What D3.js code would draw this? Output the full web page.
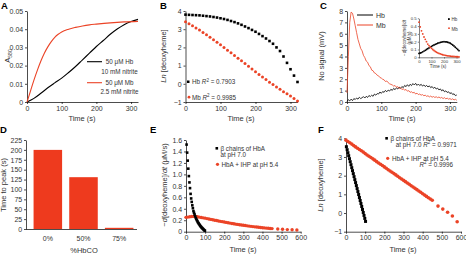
<!DOCTYPE html>
<html>
<head>
<meta charset="utf-8">
<script src="https://cdn.jsdelivr.net/npm/d3@7"></script>
<style>
  body { margin: 0; background: #fff; }
  svg { font-family: "Liberation Sans", Arial, Helvetica, sans-serif; }
  .axis path, .axis line { stroke: #000; stroke-width: 0.7; }
  .axis text { fill: #333; font-size: 7px; }
  .inset .axis text { font-size: 4.3px; }
  .inset .axis path, .inset .axis line { stroke-width: 0.5; }
  .lab { font-size: 7.5px; fill: #333; }
  .leg { font-size: 6.3px; fill: #333; }
  .letter { font-size: 9.5px; font-weight: bold; fill: #000; }
</style>
</head>
<body>
<svg id="fig" width="466" height="258"></svg>
<script>
// ---- data ----
// A: absorbance vs time
let aHbTime = [0, 20, 40, 60, 80, 100, 120, 140, 160, 180, 200, 220, 240, 260, 280, 300, 320];
let aHbAbs = [0, 0.002, 0.0048, 0.0078, 0.0105, 0.0131, 0.0162, 0.0195, 0.0232, 0.0268, 0.0305, 0.0338, 0.0372, 0.0401, 0.0425, 0.0442, 0.0454];
let aMbTime = [0, 10, 20, 30, 40, 50, 60, 70, 80, 90, 100, 120, 140, 160, 180, 200, 240, 280, 320];
let aMbAbs = [0, 0.006, 0.012, 0.0175, 0.0225, 0.0268, 0.0303, 0.0332, 0.0355, 0.0372, 0.0385, 0.04, 0.041, 0.0418, 0.0424, 0.0428, 0.0435, 0.044, 0.0443];

// B: ln[deoxyheme]
let bTime = [0, 10, 20, 30, 40, 50, 60, 70, 80, 90, 100, 110, 120, 130, 140, 150, 160, 170, 180, 190, 200, 210, 220, 230, 240, 250, 260, 270, 280, 290, 300, 310, 320];
let bHb = [3.8, 3.79, 3.78, 3.77, 3.76, 3.74, 3.72, 3.7, 3.67, 3.64, 3.6, 3.56, 3.51, 3.45, 3.39, 3.32, 3.24, 3.15, 3.06, 2.96, 2.86, 2.74, 2.62, 2.49, 2.35, 2.2, 2.0, 1.8, 1.5, 1.15, 0.8, 0.45, 0.1];
let bMb = [3.41, 3.3, 3.19, 3.07, 2.95, 2.82, 2.69, 2.56, 2.42, 2.28, 2.14, 2.0, 1.85, 1.71, 1.56, 1.41, 1.26, 1.11, 0.96, 0.81, 0.66, 0.51, 0.37, 0.23, 0.09, -0.04, -0.17, -0.3, -0.43, -0.55, -0.67, -0.81, -0.95];

// C: NO signal traces
let cTime = [0, 4, 8, 12, 16, 20, 24, 28, 32, 36, 40, 44, 48, 52, 56, 60, 64, 68, 72, 76,
  80, 84, 88, 92, 96, 100, 104, 108, 112, 116, 120, 124, 128, 132, 136, 140, 144, 148, 152, 156,
  160, 164, 168, 172, 176, 180, 184, 188, 192, 196, 200, 204, 208, 212, 216, 220, 224, 228, 232, 236,
  240, 244, 248, 252, 256, 260, 264, 268, 272, 276, 280, 284, 288, 292, 296, 300, 304, 308, 312, 316, 320];
let cHb = [0.05, 0.2, 0.1, 0.25, 0.12, 0.3, 0.22, 0.35, 0.25, 0.42, 0.3, 0.38, 0.47, 0.35, 0.5, 0.4, 0.57, 0.48, 0.6, 0.5,
  0.7, 0.6, 0.74, 0.7, 0.88, 0.76, 0.92, 0.85, 1.02, 0.9, 1.05, 0.96, 1.12, 1.02, 1.2, 1.08, 1.25, 1.14, 1.32, 1.2,
  1.36, 1.26, 1.46, 1.35, 1.52, 1.38, 1.56, 1.44, 1.62, 1.5, 1.64, 1.46, 1.58, 1.44, 1.56, 1.4, 1.5, 1.36, 1.46, 1.32,
  1.42, 1.26, 1.36, 1.2, 1.3, 1.14, 1.22, 1.06, 1.15, 0.98, 1.08, 0.9, 0.98, 0.84, 0.9, 0.74, 0.82, 0.66, 0.72, 0.56, 0.62];
let cMb = [0.8, 4.0, 7.0, 7.9, 7.8, 7.3, 6.7, 6.1, 5.5, 5.1, 4.7, 4.5, 4.1, 3.9, 3.6, 3.5, 3.2, 3.1, 2.8, 2.75,
  2.55, 2.5, 2.35, 2.3, 2.15, 2.1, 2.0, 1.95, 1.8, 1.85, 1.7, 1.6, 1.55, 1.5, 1.4, 1.45, 1.3, 1.35, 1.2, 1.25,
  1.1, 1.15, 1.05, 1.1, 0.95, 1.0, 0.85, 0.9, 0.8, 0.85, 0.7, 0.78, 0.65, 0.7, 0.6, 0.65, 0.55, 0.6, 0.5, 0.55,
  0.45, 0.52, 0.42, 0.48, 0.4, 0.46, 0.38, 0.44, 0.35, 0.4, 0.3, 0.38, 0.28, 0.34, 0.25, 0.3, 0.22, 0.28, 0.18, 0.24, 0.15];

// C inset: -d[deoxyheme]/dt
let insetTime = [0, 10, 20, 30, 40, 50, 60, 70, 80, 90, 100, 110, 120, 130, 140, 150, 160, 170, 180, 190, 200, 210, 220, 230, 240, 250, 260, 270, 280, 290, 300, 310, 320];
let insetHb = [0.05, 0.055, 0.06, 0.07, 0.08, 0.09, 0.1, 0.11, 0.12, 0.13, 0.14, 0.15, 0.158, 0.166, 0.173, 0.18, 0.186, 0.191, 0.195, 0.198, 0.2, 0.199, 0.197, 0.193, 0.187, 0.18, 0.17, 0.158, 0.145, 0.13, 0.115, 0.1, 0.085];
let insetMb = [0.45, 0.39, 0.34, 0.3, 0.26, 0.23, 0.2, 0.17, 0.15, 0.13, 0.115, 0.1, 0.087, 0.075, 0.065, 0.057, 0.05, 0.044, 0.038, 0.033, 0.029, 0.025, 0.022, 0.019, 0.017, 0.015, 0.013, 0.011, 0.01, 0.009, 0.008, 0.007, 0.006];

// D: time to peak
let dCats = ["0%", "50%", "75%"];
let dPeak = [200, 131, 3];

// E: rates
let eHbTime = [3, 6, 9, 12, 15, 18, 21, 24, 27, 30, 33, 36, 39, 42, 45, 48, 51, 54, 57, 60, 63, 66, 69, 72, 75, 78, 81, 84, 87, 90, 93, 96, 99];
let eHb = [1.52, 1.38, 1.24, 1.1, 0.97, 0.86, 0.76, 0.66, 0.58, 0.52, 0.46, 0.41, 0.36, 0.33, 0.3, 0.27, 0.24, 0.22, 0.2, 0.18, 0.16, 0.145, 0.13, 0.115, 0.1, 0.09, 0.075, 0.065, 0.055, 0.045, 0.035, 0.025, 0.018];
let ihpTime = [0, 10, 20, 30, 40, 50, 60, 70, 80, 90, 100, 110, 120, 130, 140, 150, 160, 170, 180, 190, 200, 210, 220, 230, 240, 250, 260, 270, 280, 290, 300,
  310, 320, 330, 340, 350, 360, 370, 380, 390, 400, 410, 420, 430, 440, 450, 480, 505, 530, 555, 580];
let eIhp = [0.25, 0.255, 0.26, 0.265, 0.268, 0.265, 0.26, 0.254, 0.248, 0.242, 0.236, 0.229, 0.222, 0.215, 0.208, 0.201, 0.195, 0.188, 0.181, 0.175, 0.168, 0.162, 0.156, 0.15, 0.144, 0.138, 0.132, 0.127, 0.122, 0.117, 0.112,
  0.107, 0.102, 0.098, 0.093, 0.089, 0.085, 0.081, 0.077, 0.073, 0.07, 0.066, 0.063, 0.06, 0.057, 0.054, 0.047, 0.042, 0.037, 0.033, 0.03];

// F: ln[deoxyheme]
let fHbTime = [2, 6, 10, 14, 18, 22, 26, 30, 34, 38, 42, 46, 50, 54, 58, 62, 66, 70, 74, 78, 82, 86, 90, 94, 98, 102];
let fHb = [3.55, 3.39, 3.23, 3.07, 2.91, 2.75, 2.59, 2.43, 2.27, 2.11, 1.95, 1.79, 1.63, 1.47, 1.31, 1.15, 0.99, 0.83, 0.67, 0.51, 0.35, 0.19, 0.03, -0.13, -0.29, -0.45];
let fIhp = [3.9, 3.83, 3.76, 3.69, 3.61, 3.54, 3.47, 3.4, 3.33, 3.26, 3.18, 3.11, 3.04, 2.97, 2.9, 2.83, 2.75, 2.68, 2.61, 2.54, 2.47, 2.4, 2.32, 2.25, 2.18, 2.11, 2.04, 1.97, 1.89, 1.82, 1.75,
  1.68, 1.61, 1.54, 1.46, 1.39, 1.32, 1.25, 1.18, 1.11, 1.03, 0.96, 0.89, 0.82, 0.75, 0.68, 0.37, 0.21, 0.04, -0.16, -0.47];

let ticks300 = [0, 100, 200, 300];
let ticks600 = [0, 100, 200, 300, 400, 500, 600];

let red = "#eb4326";
let barRed = "#ee3a1e";

let svg = d3.select("#fig");

function zip(xs, ys) {
  return xs.map((t, i) => ({ x: t, y: ys[i] }));
}

function addAxes(g, x, y, xVals, yVals, yFmt, tick = 2) {
  g.append("g")
    .attr("class", "axis")
    .attr("transform", "translate(0," + y.range()[0] + ")")
    .call(d3.axisBottom(x).tickValues(xVals).tickSize(tick).tickSizeOuter(0).tickPadding(tick * 0.9));
  g.append("g")
    .attr("class", "axis")
    .attr("transform", "translate(" + x.range()[0] + ",0)")
    .call(d3.axisLeft(y).tickValues(yVals).tickFormat(yFmt).tickSize(tick).tickSizeOuter(0).tickPadding(tick * 0.9));
}

function yLabel(x, y, txt) {
  return svg.append("text").attr("class", "lab").attr("text-anchor", "middle")
    .attr("transform", "translate(" + x + "," + y + ") rotate(-90)").text(txt);
}

function xLabel(x, y, txt) {
  svg.append("text").attr("class", "lab").attr("text-anchor", "middle").attr("x", x).attr("y", y).text(txt);
}

function squares(g, data, x, y, s, col) {
  g.selectAll(null).data(data).enter().append("rect")
    .attr("x", (d) => x(d.x) - s / 2).attr("y", (d) => y(d.y) - s / 2)
    .attr("width", s).attr("height", s).attr("fill", col);
}

function dots(g, data, x, y, r, col) {
  g.selectAll(null).data(data).enter().append("circle")
    .attr("cx", (d) => x(d.x)).attr("cy", (d) => y(d.y)).attr("r", r).attr("fill", col);
}

function letter(x, y, t) {
  svg.append("text").attr("class", "letter").attr("x", x).attr("y", y).text(t);
}

function r2(g, x, y, pre, val, anchor) {
  let t = g.append("text").attr("class", "leg").attr("x", x).attr("y", y).attr("text-anchor", anchor || "start");
  t.append("tspan").text(pre);
  t.append("tspan").attr("font-style", "italic").text("R");
  t.append("tspan").attr("dy", -2.5).attr("font-size", "4.5px").text("2");
  t.append("tspan").attr("dy", 2.5).text(" = " + val);
}

let fmt0 = (d) => (d === 0 ? "0" : d3.format(".2f")(d));

// ---------- A ----------
let gA = svg.append("g");
let xA = d3.scaleLinear().domain([0, 320]).range([27, 138]);
let yA = d3.scaleLinear().domain([0, 0.05]).range([102, 11]);
addAxes(gA, xA, yA, ticks300, [0, 0.01, 0.02, 0.03, 0.04, 0.05], fmt0);
let lineA = d3.line().x((d) => xA(d.x)).y((d) => yA(d.y)).curve(d3.curveMonotoneX);
gA.append("path").attr("d", lineA(zip(aHbTime, aHbAbs))).attr("fill", "none").attr("stroke", "#000").attr("stroke-width", 1.1);
gA.append("path").attr("d", lineA(zip(aMbTime, aMbAbs))).attr("fill", "none").attr("stroke", red).attr("stroke-width", 1.1);
gA.append("line").attr("x1", 87).attr("x2", 102).attr("y1", 61.7).attr("y2", 61.7).attr("stroke", "#000").attr("stroke-width", 1.1);
gA.append("line").attr("x1", 87).attr("x2", 102).attr("y1", 82.7).attr("y2", 82.7).attr("stroke", red).attr("stroke-width", 1.1);
[["50 μM Hb", 64], ["10 mM nitrite", 73.5], ["50 μM Mb", 85], ["2.5 mM nitrite", 94.2]].forEach((l) => {
  gA.append("text").attr("class", "leg").attr("x", 119.5).attr("y", l[1]).attr("text-anchor", "middle").text(l[0]);
});
let ylA = yLabel(10, 56, "A");
ylA.append("tspan").attr("font-size", "5px").attr("dy", 1.8).text("580");
xLabel(82, 121, "Time (s)");
letter(1, 8.5, "A");

// ---------- B ----------
let gB = svg.append("g");
let xB = d3.scaleLinear().domain([0, 320]).range([185.5, 297.5]);
let yB = d3.scaleLinear().domain([-1, 4]).range([102, 11]);
addAxes(gB, xB, yB, ticks300, [-1, 0, 1, 2, 3, 4], d3.format("d"));
squares(gB, zip(bTime, bHb), xB, yB, 2.6, "#000");
dots(gB, zip(bTime, bMb), xB, yB, 1.5, red);
gB.append("rect").attr("x", 187).attr("y", 80.5).attr("width", 2.5).attr("height", 2.5).attr("fill", "#000");
gB.append("circle").attr("cx", 189).attr("cy", 97.2).attr("r", 1.4).attr("fill", red);
r2(gB, 192, 84, "Hb ", "0.7903");
r2(gB, 192, 99.6, "Mb ", "0.9985");
let ylB = yLabel(166, 56, "");
ylB.append("tspan").attr("font-style", "italic").text("Ln");
ylB.append("tspan").text(" [deoxyheme]");
xLabel(241, 121, "Time (s)");
letter(160, 8.5, "B");

// ---------- C ----------
let gC = svg.append("g");
let xC = d3.scaleLinear().domain([0, 320]).range([347, 456.8]);
let yC = d3.scaleLinear().domain([0, 8]).range([102, 11]);
addAxes(gC, xC, yC, ticks300, d3.range(0, 9), d3.format("d"));
let lineC = d3.line().x((d) => xC(d.x)).y((d) => yC(d.y));
gC.append("path").attr("d", lineC(zip(cTime, cHb))).attr("fill", "none").attr("stroke", "#000").attr("stroke-width", 0.8);
gC.append("path").attr("d", lineC(zip(cTime, cMb))).attr("fill", "none").attr("stroke", red).attr("stroke-width", 0.8);
gC.append("line").attr("x1", 357).attr("x2", 373).attr("y1", 15).attr("y2", 15).attr("stroke", "#000").attr("stroke-width", 1);
gC.append("line").attr("x1", 357).attr("x2", 373).attr("y1", 25).attr("y2", 25).attr("stroke", red).attr("stroke-width", 1);
gC.append("text").attr("class", "leg").attr("x", 376).attr("y", 17.5).style("font-size", "7px").text("Hb");
gC.append("text").attr("class", "leg").attr("x", 376).attr("y", 27.5).style("font-size", "7px").text("Mb");
yLabel(324, 56, "No signal (mV)");
xLabel(402, 121, "Time (s)");
letter(320, 8.5, "C");

// inset
let gI = svg.append("g").attr("class", "inset");
let xI = d3.scaleLinear().domain([0, 320]).range([419, 459]);
let yI = d3.scaleLinear().domain([0, 0.5]).range([57.3, 18.3]);
addAxes(gI, xI, yI, ticks300, [0, 0.1, 0.2, 0.3, 0.4, 0.5], (d) => (d === 0 ? "0" : d3.format(".1f")(d)), 1.2);
dots(gI, zip(insetTime, insetHb), xI, yI, 0.9, "#000");
dots(gI, zip(insetTime, insetMb), xI, yI, 0.9, red);
gI.append("rect").attr("x", 448).attr("y", 18.2).attr("width", 1.8).attr("height", 1.8).attr("fill", "#000");
gI.append("circle").attr("cx", 449).attr("cy", 28.2).attr("r", 0.9).attr("fill", red);
gI.append("text").attr("x", 451.5).attr("y", 20.7).attr("font-size", "4.5px").attr("fill", "#333").text("Hb");
gI.append("text").attr("x", 451.5).attr("y", 30.7).attr("font-size", "4.5px").attr("fill", "#333").text("Mb");
let ilab = gI.append("text").attr("text-anchor", "middle").attr("font-size", "4.5px").attr("fill", "#333")
  .attr("transform", "translate(406,38) rotate(-90)");
ilab.append("tspan").text("−");
ilab.append("tspan").attr("font-style", "italic").text("d");
ilab.append("tspan").text("[deoxyheme]/");
ilab.append("tspan").attr("font-style", "italic").text("dt");
gI.append("text").attr("text-anchor", "middle").attr("font-size", "4.5px").attr("fill", "#333")
  .attr("transform", "translate(411,38) rotate(-90)").text("(μM/s)");
gI.append("text").attr("text-anchor", "middle").attr("font-size", "4.5px").attr("fill", "#333")
  .attr("x", 438).attr("y", 67.5).text("Time (s)");

// ---------- D ----------
let gD = svg.append("g");
let xD = d3.scaleBand().domain(dCats).range([30, 137]).paddingInner(0.2).paddingOuter(0.1);
let yD = d3.scaleLinear().domain([0, 225]).range([229, 140]);
gD.selectAll(".bar").data(dPeak).enter().append("rect")
  .attr("class", "bar")
  .attr("x", (d, i) => xD(dCats[i]))
  .attr("width", xD.bandwidth())
  .attr("y", (d) => yD(d))
  .attr("height", (d) => yD(0) - yD(d))
  .attr("fill", barRed);
gD.append("g").attr("class", "axis").attr("transform", "translate(0,229)")
  .call(d3.axisBottom(xD).tickSize(0).tickSizeOuter(0).tickPadding(7));
gD.append("g").attr("class", "axis").attr("transform", "translate(26,0)")
  .call(d3.axisLeft(yD).tickValues(d3.range(0, 226, 25)).tickSize(2).tickSizeOuter(0).tickPadding(1.8));
gD.select(".axis path").attr("d", "M26,0.5H137");
yLabel(5.5, 185, "Time to peak (s)");
xLabel(84, 253, "%HbCO");
letter(0, 133, "D");

// ---------- E ----------
let gE = svg.append("g");
let xE = d3.scaleLinear().domain([0, 600]).range([186, 300.7]);
let yE = d3.scaleLinear().domain([0, 1.6]).range([231.7, 140]);
addAxes(gE, xE, yE, ticks600, [0, 0.2, 0.4, 0.6, 0.8, 1.0, 1.2, 1.4, 1.6], (d) => (d === 0 ? "0" : d3.format(".1f")(d)));
dots(gE, zip(ihpTime, eIhp), xE, yE, 1.7, red);
squares(gE, zip(eHbTime, eHb), xE, yE, 2.6, "#000");
gE.append("rect").attr("x", 215.5).attr("y", 147).attr("width", 2.6).attr("height", 2.6).attr("fill", "#000");
gE.append("circle").attr("cx", 217.5).attr("cy", 164.3).attr("r", 1.6).attr("fill", red);
gE.append("text").attr("class", "leg").attr("x", 220.5).attr("y", 150.5).text("β chains of HbA");
gE.append("text").attr("class", "leg").attr("x", 220.5).attr("y", 157).text("at pH 7.0");
gE.append("text").attr("class", "leg").attr("x", 221.5).attr("y", 166.6).text("HbA + IHP at pH 5.4");
let ylE = yLabel(167, 185, "");
ylE.append("tspan").text("−");
ylE.append("tspan").attr("font-style", "italic").text("d");
ylE.append("tspan").text("[deoxyheme]/");
ylE.append("tspan").attr("font-style", "italic").text("dt");
ylE.append("tspan").text(" (μM/s)");
xLabel(243, 252, "Time (s)");
letter(150, 133, "E");

// ---------- F ----------
let gF = svg.append("g");
let xF = d3.scaleLinear().domain([0, 600]).range([346, 461]);
let yF = d3.scaleLinear().domain([-1, 4]).range([231.7, 138.3]);
addAxes(gF, xF, yF, ticks600, [-1, 0, 1, 2, 3, 4], d3.format("d"));
dots(gF, zip(ihpTime, fIhp), xF, yF, 1.8, red);
squares(gF, zip(fHbTime, fHb), xF, yF, 3, "#000");
gF.append("rect").attr("x", 385.3).attr("y", 137).attr("width", 2.6).attr("height", 2.6).attr("fill", "#000");
gF.append("circle").attr("cx", 387.7).attr("cy", 158.3).attr("r", 1.6).attr("fill", red);
gF.append("text").attr("class", "leg").attr("x", 390.5).attr("y", 140.5).text("β chains of HbA");
r2(gF, 456.7, 146.5, "at pH 7.0 ", "0.9971", "end");
gF.append("text").attr("class", "leg").attr("x", 392).attr("y", 160.6).text("HbA + IHP at pH 5.4");
r2(gF, 453, 166.6, "", "0.9996", "end");
let ylF = yLabel(323, 185, "");
ylF.append("tspan").attr("font-style", "italic").text("Ln");
ylF.append("tspan").text(" [deoxyheme]");
xLabel(403, 252, "Time (s)");
letter(318, 133, "F");
</script>
</body>
</html>
